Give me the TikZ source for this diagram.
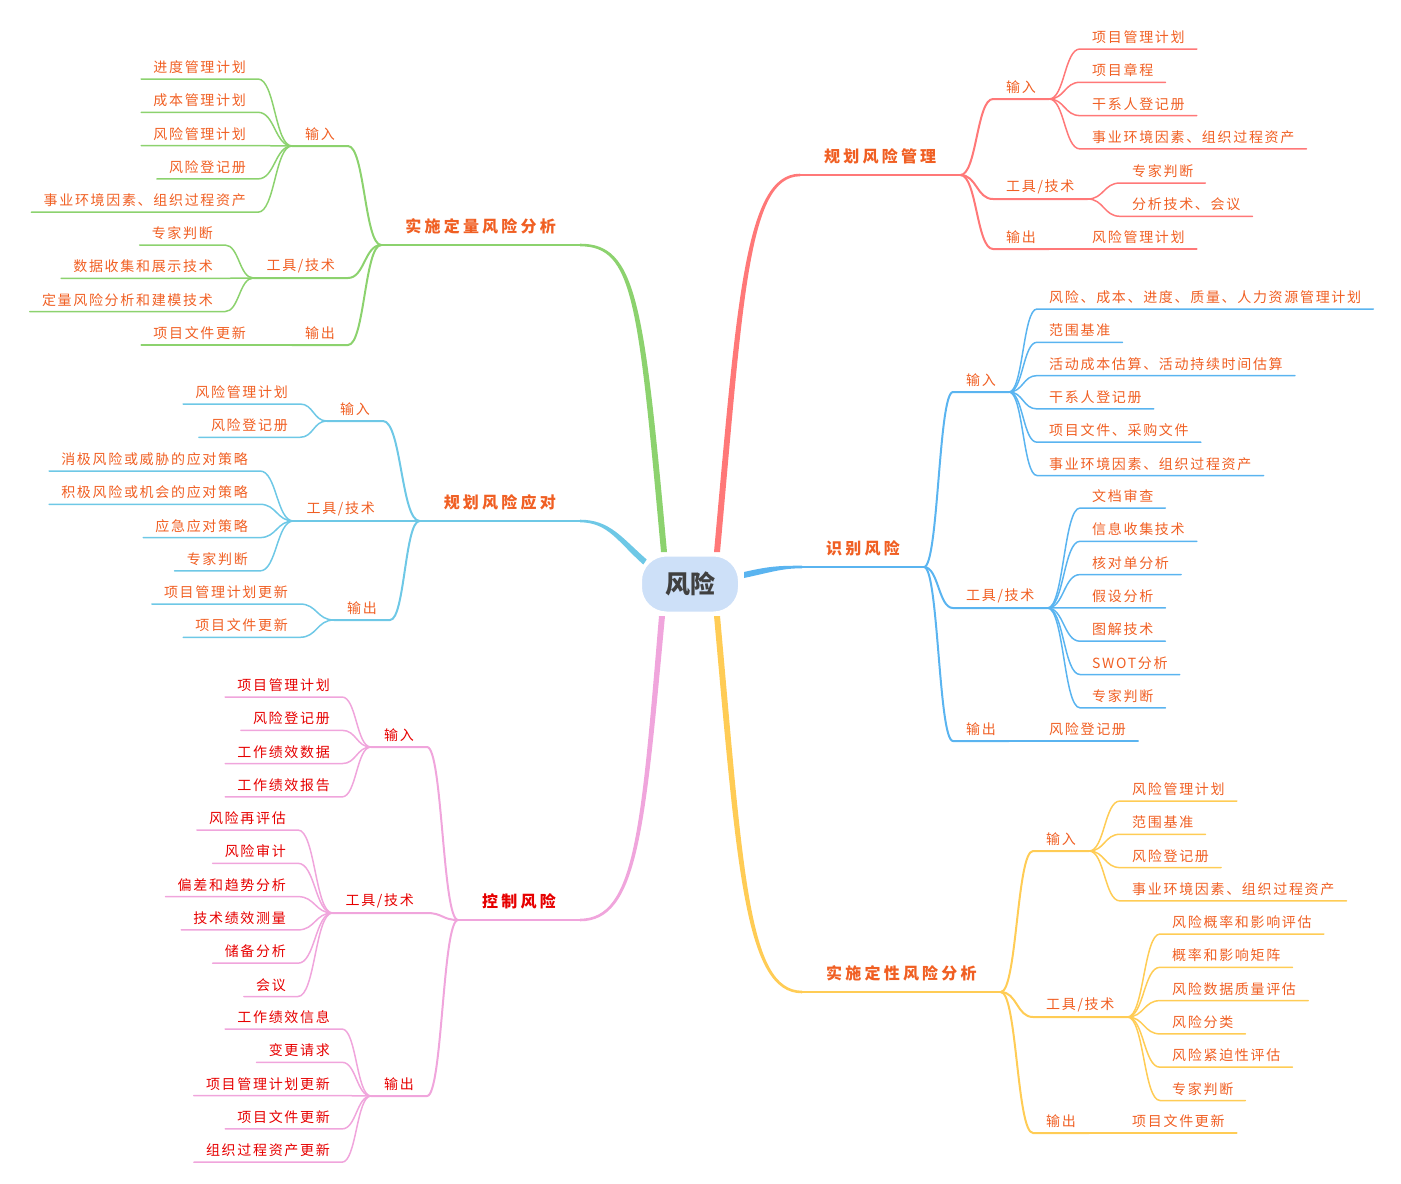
\documentclass[tikz,border=0pt]{standalone}
\usepackage{fontspec}
\setmainfont{Noto Sans CJK SC}
\newfontfamily\leaffam[LetterSpace=12]{Noto Sans CJK SC}
\newfontfamily\topicfam[LetterSpace=20]{Noto Sans CJK SC}
\usetikzlibrary{calc}

\definecolor{txt}{RGB}{240,95,35}
\definecolor{txtred}{RGB}{230,0,0}
\definecolor{ctrtxt}{RGB}{64,64,64}
\definecolor{ctrfill}{RGB}{205,224,248}
\definecolor{redB}{RGB}{255,120,120}
\definecolor{blueB}{RGB}{90,180,240}
\definecolor{yelB}{RGB}{255,204,85}
\definecolor{pinkB}{RGB}{240,165,220}
\definecolor{cyanB}{RGB}{110,200,230}
\definecolor{grnB}{RGB}{140,210,110}

\begin{document}
\begin{tikzpicture}[x=1pt, y=-1pt, line cap=round,
	leafR/.style={font=\leaffam\fontsize{14}{16}\selectfont, text=txt, inner xsep=12pt, inner ysep=5pt, anchor=south west},
	leafL/.style={leafR, anchor=south east},
	subR/.style={leafR, inner xsep=13pt},
	subL/.style={subR, anchor=south east},
	topicR/.style={font=\topicfam\bfseries\fontsize{16}{18}\selectfont, text=txt, inner xsep=24pt, inner ysep=11pt, anchor=south west},
	topicL/.style={topicR, anchor=south east},
	fan/.style={to path={let \p1=(\tikztostart), \p2=(\tikztotarget) in
		.. controls ({(\x1+\x2)/2},\y1) and ({(\x1+\x2)/2},\y2) .. (\tikztotarget) \tikztonodes}},
	leafline/.style={line width=1.5pt},
	subline/.style={line width=2pt},
	topicline/.style={line width=2.6pt}]
	\useasboundingbox (0,0) rectangle (1401,1184);

	% tapered main branches
	\fill[redB] (714,552) .. controls (737,300) and (745,173.7) .. (800,173.7) -- (800,176.3) .. controls (748,176.3) and (743,300) .. (720,552) -- cycle;
	\fill[blueB] (744,572) .. controls (770,566) and (780,565.7) .. (802,565.7) -- (802,568.3) .. controls (782,568.3) and (772,572) .. (744,578) -- cycle;
	\fill[yelB] (714,616) .. controls (737,870) and (745,993.3) .. (802,993.3) -- (802,990.7) .. controls (748,990.7) and (743,870) .. (720,616) -- cycle;
	\fill[pinkB] (665,616) .. controls (645,830) and (638,921.3) .. (580,921.3) -- (580,918.7) .. controls (635,918.7) and (641,830) .. (659,616) -- cycle;
	\fill[cyanB] (646.7,559.5) .. controls (622,538) and (610,519.7) .. (580,519.7) -- (580,522.3) .. controls (608,522.3) and (618,542) .. (643.3,564.5) -- cycle;
	\fill[grnB] (667,552) .. controls (644,300) and (636,243.7) .. (580,243.7) -- (580,246.3) .. controls (633,246.3) and (638,300) .. (661,552) -- cycle;

	\node[draw=white, line width=3pt, fill=ctrfill, rounded corners=26pt, minimum width=99pt, minimum height=58pt,
		font=\bfseries\fontsize{25}{27}\selectfont, text=ctrtxt] (risk) at (690,584) {风险};

	% 规划风险管理
	\node[topicR] (plan) at (800,175) {规划风险管理};
	\draw[redB, topicline] (plan.south west) -- (plan.south east);
	\node[subR] (planIn) at (993,99) {输入};
	\node[subR] (planTool) at (993,199) {工具/技术};
	\node[subR] (planOut) at (993,249) {输出};
	\foreach \s in {planIn,planTool,planOut}
		\draw[redB, subline] (plan.south east) to[fan] (\s.south west) -- (\s.south east);
	\foreach \t [count=\i] in {项目管理计划,项目章程,干系人登记册,事业环境因素、组织过程资产} {
		\node[leafR] (planIn\i) at (1080,{49+33.3*(\i-1)}) {\t};
		\draw[redB, leafline] (planIn.south east) to[fan] (planIn\i.south west) -- (planIn\i.south east);
	}
	\foreach \t [count=\i] in {专家判断,分析技术、会议} {
		\node[leafR] (planTool\i) at (1120,{183+33.3*(\i-1)}) {\t};
		\draw[redB, leafline] (planTool.south east) to[fan] (planTool\i.south west) -- (planTool\i.south east);
	}
	\node[leafR] (planOut1) at (1080,249) {风险管理计划};
	\draw[redB, leafline] (planOut.south east) -- (planOut1.south east);

	% 识别风险
	\node[topicR] (ident) at (802,567) {识别风险};
	\draw[blueB, topicline] (ident.south west) -- (ident.south east);
	\node[subR] (identIn) at (953,392) {输入};
	\node[subR] (identTool) at (953,608) {工具/技术};
	\node[subR] (identOut) at (953,741) {输出};
	\foreach \s in {identIn,identTool,identOut}
		\draw[blueB, subline] (ident.south east) to[fan] (\s.south west) -- (\s.south east);
	\foreach \t [count=\i] in {风险、成本、进度、质量、人力资源管理计划,范围基准,活动成本估算、活动持续时间估算,干系人登记册,项目文件、采购文件,事业环境因素、组织过程资产} {
		\node[leafR] (identIn\i) at (1037,{309+33.3*(\i-1)}) {\t};
		\draw[blueB, leafline] (identIn.south east) to[fan] (identIn\i.south west) -- (identIn\i.south east);
	}
	\foreach \t [count=\i] in {文档审查,信息收集技术,核对单分析,假设分析,图解技术,SWOT分析,专家判断} {
		\node[leafR] (identTool\i) at (1080,{508+33.3*(\i-1)}) {\t};
		\draw[blueB, leafline] (identTool.south east) to[fan] (identTool\i.south west) -- (identTool\i.south east);
	}
	\node[leafR] (identOut1) at (1037,741) {风险登记册};
	\draw[blueB, leafline] (identOut.south east) -- (identOut1.south east);

	% 实施定性风险分析
	\node[topicR] (qual) at (802,992) {实施定性风险分析};
	\draw[yelB, topicline] (qual.south west) -- (qual.south east);
	\node[subR] (qualIn) at (1033,851) {输入};
	\node[subR] (qualTool) at (1033,1017) {工具/技术};
	\node[subR] (qualOut) at (1033,1133) {输出};
	\foreach \s in {qualIn,qualTool,qualOut}
		\draw[yelB, subline] (qual.south east) to[fan] (\s.south west) -- (\s.south east);
	\foreach \t [count=\i] in {风险管理计划,范围基准,风险登记册,事业环境因素、组织过程资产} {
		\node[leafR] (qualIn\i) at (1120,{801+33.3*(\i-1)}) {\t};
		\draw[yelB, leafline] (qualIn.south east) to[fan] (qualIn\i.south west) -- (qualIn\i.south east);
	}
	\foreach \t [count=\i] in {风险概率和影响评估,概率和影响矩阵,风险数据质量评估,风险分类,风险紧迫性评估,专家判断} {
		\node[leafR] (qualTool\i) at (1160,{934+33.3*(\i-1)}) {\t};
		\draw[yelB, leafline] (qualTool.south east) to[fan] (qualTool\i.south west) -- (qualTool\i.south east);
	}
	\node[leafR] (qualOut1) at (1120,1133) {项目文件更新};
	\draw[yelB, leafline] (qualOut.south east) -- (qualOut1.south east);

	% 控制风险
	\node[topicL, text=txtred] (ctrl) at (580,920) {控制风险};
	\draw[pinkB, topicline] (ctrl.south east) -- (ctrl.south west);
	\node[subL, text=txtred] (ctrlIn) at (427,747) {输入};
	\node[subL, text=txtred] (ctrlTool) at (427,913) {工具/技术};
	\node[subL, text=txtred] (ctrlOut) at (427,1096) {输出};
	\foreach \s in {ctrlIn,ctrlTool,ctrlOut}
		\draw[pinkB, subline] (ctrl.south west) to[fan] (\s.south east) -- (\s.south west);
	\foreach \t [count=\i] in {项目管理计划,风险登记册,工作绩效数据,工作绩效报告} {
		\node[leafL, text=txtred] (ctrlIn\i) at (342,{697+33.3*(\i-1)}) {\t};
		\draw[pinkB, leafline] (ctrlIn.south west) to[fan] (ctrlIn\i.south east) -- (ctrlIn\i.south west);
	}
	\foreach \t [count=\i] in {风险再评估,风险审计,偏差和趋势分析,技术绩效测量,储备分析,会议} {
		\node[leafL, text=txtred] (ctrlTool\i) at (298,{830+33.3*(\i-1)}) {\t};
		\draw[pinkB, leafline] (ctrlTool.south west) to[fan] (ctrlTool\i.south east) -- (ctrlTool\i.south west);
	}
	\foreach \t [count=\i] in {工作绩效信息,变更请求,项目管理计划更新,项目文件更新,组织过程资产更新} {
		\node[leafL, text=txtred] (ctrlOut\i) at (342,{1029+33.3*(\i-1)}) {\t};
		\draw[pinkB, leafline] (ctrlOut.south west) to[fan] (ctrlOut\i.south east) -- (ctrlOut\i.south west);
	}

	% 规划风险应对
	\node[topicL] (resp) at (580,521) {规划风险应对};
	\draw[cyanB, topicline] (resp.south east) -- (resp.south west);
	\node[subL] (respIn) at (383,421) {输入};
	\node[subL] (respTool) at (388,521) {工具/技术};
	\node[subL] (respOut) at (390,620) {输出};
	\foreach \s in {respIn,respTool,respOut}
		\draw[cyanB, subline] (resp.south west) to[fan] (\s.south east) -- (\s.south west);
	\foreach \t [count=\i] in {风险管理计划,风险登记册} {
		\node[leafL] (respIn\i) at (300,{404+33.3*(\i-1)}) {\t};
		\draw[cyanB, leafline] (respIn.south west) to[fan] (respIn\i.south east) -- (respIn\i.south west);
	}
	\foreach \t [count=\i] in {消极风险或威胁的应对策略,积极风险或机会的应对策略,应急应对策略,专家判断} {
		\node[leafL] (respTool\i) at (260,{471+33.3*(\i-1)}) {\t};
		\draw[cyanB, leafline] (respTool.south west) to[fan] (respTool\i.south east) -- (respTool\i.south west);
	}
	\foreach \t [count=\i] in {项目管理计划更新,项目文件更新} {
		\node[leafL] (respOut\i) at (300,{604+33.3*(\i-1)}) {\t};
		\draw[cyanB, leafline] (respOut.south west) to[fan] (respOut\i.south east) -- (respOut\i.south west);
	}

	% 实施定量风险分析
	\node[topicL] (quant) at (580,245) {实施定量风险分析};
	\draw[grnB, topicline] (quant.south east) -- (quant.south west);
	\node[subL] (quantIn) at (348,146) {输入};
	\node[subL] (quantTool) at (348,278) {工具/技术};
	\node[subL] (quantOut) at (348,345) {输出};
	\foreach \s in {quantIn,quantTool,quantOut}
		\draw[grnB, subline] (quant.south west) to[fan] (\s.south east) -- (\s.south west);
	\foreach \t [count=\i] in {进度管理计划,成本管理计划,风险管理计划,风险登记册,事业环境因素、组织过程资产} {
		\node[leafL] (quantIn\i) at (258,{79+33.3*(\i-1)}) {\t};
		\draw[grnB, leafline] (quantIn.south west) to[fan] (quantIn\i.south east) -- (quantIn\i.south west);
	}
	\foreach \t [count=\i] in {专家判断,数据收集和展示技术,定量风险分析和建模技术} {
		\node[leafL] (quantTool\i) at (225,{245+33.3*(\i-1)}) {\t};
		\draw[grnB, leafline] (quantTool.south west) to[fan] (quantTool\i.south east) -- (quantTool\i.south west);
	}
	\node[leafL] (quantOut1) at (258,345) {项目文件更新};
	\draw[grnB, leafline] (quantOut.south west) -- (quantOut1.south west);
\end{tikzpicture}
\end{document}
